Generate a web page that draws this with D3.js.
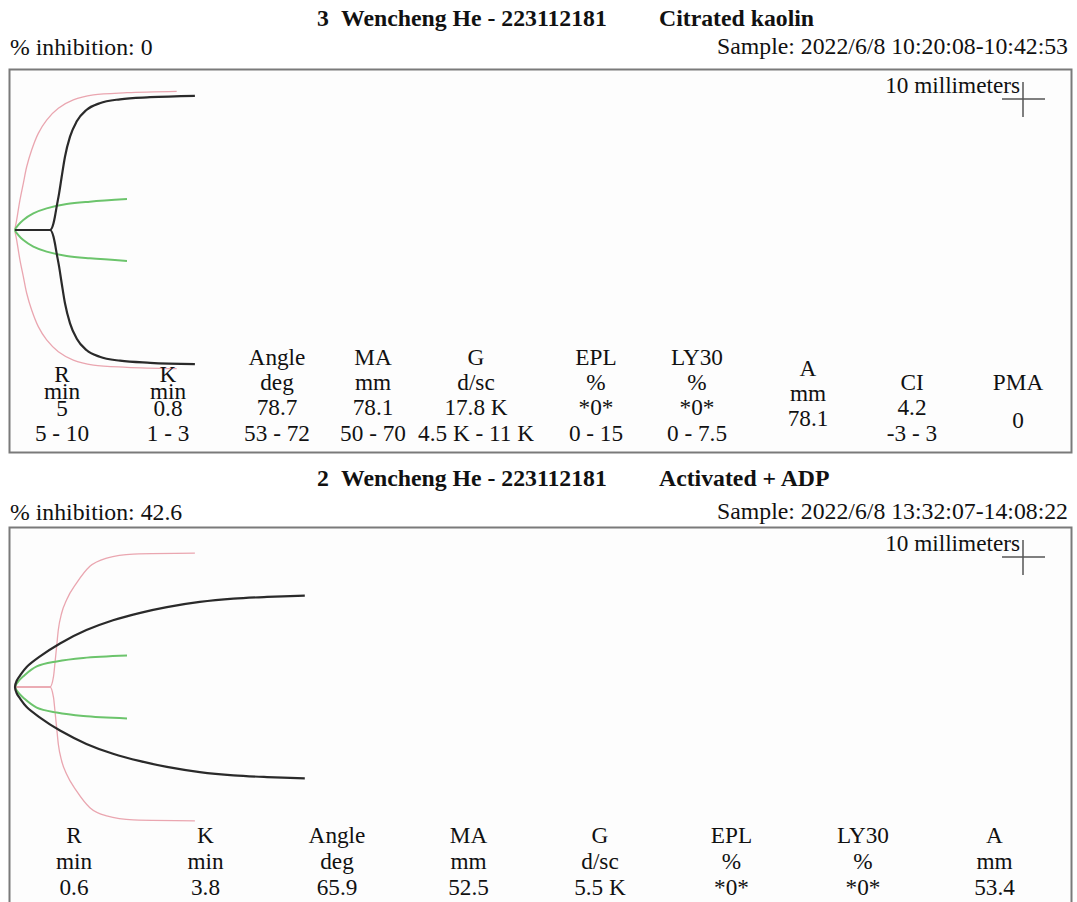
<!DOCTYPE html>
<html>
<head>
<meta charset="utf-8">
<script src="https://cdn.jsdelivr.net/npm/d3@7/dist/d3.min.js"></script>
<style>
    body { margin: 0; background: #fff; }
</style>
</head>
<body>
<script>
// ---- header texts ----
var p1Title = ["3", "Wencheng He - 223112181", "Citrated kaolin"],
    p1Inhibition = "% inhibition: 0",
    p1Sample = "Sample: 2022/6/8 10:20:08-10:42:53";

var p2Title = ["2", "Wencheng He - 223112181", "Activated + ADP"],
    p2Inhibition = "% inhibition: 42.6",
    p2Sample = "Sample: 2022/6/8 13:32:07-14:08:22";

var scaleLabel = "10 millimeters";

// ---- parameter tables ----
var p1Labels = ["R", "K", "Angle", "MA", "G", "EPL", "LY30", "A", "CI", "PMA"],
    p1Units  = ["min", "min", "deg", "mm", "d/sc", "%", "%", "mm", "", ""],
    p1Values = ["5", "0.8", "78.7", "78.1", "17.8 K", "*0*", "*0*", "78.1", "4.2", "0"],
    p1Ranges = ["5 - 10", "1 - 3", "53 - 72", "50 - 70", "4.5 K - 11 K", "0 - 15", "0 - 7.5", "", "-3 - 3", ""];

var p2Labels = ["R", "K", "Angle", "MA", "G", "EPL", "LY30", "A"],
    p2Units  = ["min", "min", "deg", "mm", "d/sc", "%", "%", "mm"],
    p2Values = ["0.6", "3.8", "65.9", "52.5", "5.5 K", "*0*", "*0*", "53.4"];

// ---- tracings: [minutes, half amplitude mm] ----
var p1Black = [[0, 0], [5, 0], [5.5, 3.9], [5.7, 7.7], [5.95, 13.5], [6.3, 21.2], [6.67, 30.8], [7.14, 42.4],
               [7.86, 54], [8.8, 62.7], [10.2, 69.4], [12.1, 73.3], [15, 75.6], [19.3, 76.8], [25.7, 77.6]];
var p1Pink  = [[0, 0], [0.24, 5.8], [0.71, 17.4], [1.19, 27], [1.67, 36.6], [2.38, 46.3], [3.33, 55.9],
               [4.52, 63.6], [6.19, 70.4], [8.33, 75.2], [11.2, 78.1], [16, 79.4], [23.1, 80.2]];
var p1Green = [[0, 0], [0.48, 2.9], [1.19, 5.8], [2.62, 9.6], [4.52, 12.5], [7.38, 15], [10.7, 16.4], [16, 17.9]];

var p2Black = [[0, 0], [0.24, 3.6], [0.71, 6.6], [1.67, 11.6], [3.57, 17.7], [6.43, 25.2],
               [10.2, 32.9], [14, 38.6], [17.9, 42.9], [21.7, 46.2], [26.4, 49.2], [31.2, 51.1], [36, 52.1], [41.4, 52.8]];
var p2Pink  = [[0, 0], [5, 0], [5.5, 6], [5.71, 13.9], [5.95, 23.5], [6.19, 33.1], [6.67, 42.8], [7.38, 50.5],
               [8.81, 60.2], [10.7, 69.8], [13.1, 74.6], [16.9, 76.9], [25.7, 77.4]];
var p2Green = [[0, 0], [0.48, 3.3], [1.19, 6.2], [3.1, 11.9], [5.95, 14.8], [9.76, 16.8], [16, 18.2]];

var width = 1077,
    height = 902,
    serif = "'Liberation Serif', 'DejaVu Serif', 'Times New Roman', serif",
    colors = {black: "#2a2a2a", pink: "#eaa6b0", green: "#6cc46c"};

var svg = d3.select("body").append("svg")
            .attr("width", width)
            .attr("height", height)
            .attr("font-family", serif);

// the sample line is 351px wide in the scan; size all text from it
var probe = svg.append("text")
               .style("font-family", serif)
               .style("font-size", "23.5px")
               .text(p1Sample);
var fontScale = 351 / probe.node().getComputedTextLength();
probe.remove();

var x = d3.scaleLinear().domain([0, 150]).range([15, 1065]);

function addText(parent, str, tx, ty, size, anchor) {
    return parent.append("text")
                 .attr("x", tx)
                 .attr("y", ty)
                 .attr("text-anchor", anchor || "start")
                 .style("font-family", serif)
                 .style("font-size", (size * fontScale) + "px")
                 .style("fill", "#111")
                 .text(str);
}

function drawHeader(title, inhibition, sample, top, subTop) {
    var g = svg.append("g").attr("transform", "translate(0," + top + ")");
    var titleX = [317, 341, 659];
    title.forEach(function(d, i) {
        addText(g, d, titleX[i], 0, 23.5).style("font-weight", "bold");
    });
    addText(g, inhibition, 10, subTop, 23.5);
    addText(g, sample, 1068, subTop - 1, 23.5, "end");
}

function drawBox(top, h) {
    svg.append("rect")
       .attr("x", 9.5)
       .attr("y", top + 0.5)
       .attr("width", 1062)
       .attr("height", h)
       .style("fill", "#fdfdfd")
       .style("stroke", "#7a7a7a")
       .style("stroke-width", 2);

    // scale marker
    addText(svg, scaleLabel, 1020, top + 24, 23, "end");

    var cx = 1023, cy = top + 30;
    svg.append("line")
       .attr("x1", cx - 21).attr("x2", cx + 22)
       .attr("y1", cy).attr("y2", cy)
       .style("stroke", "#555").style("stroke-width", 1.5);
    svg.append("line")
       .attr("x1", cx).attr("x2", cx)
       .attr("y1", cy - 17).attr("y2", cy + 18)
       .style("stroke", "#555").style("stroke-width", 1.5);
}

function drawTrace(data, cy, color, w) {
    var y = d3.scaleLinear().domain([-100, 100]).range([cy + 172.9, cy - 172.9]);

    // no flat stem: one smooth path from the lower tip round the start to the upper tip
    if (data[1][1] > 0) {
        var both = data.slice(1).reverse().map(function(d) {return [d[0], -d[1]]; }).concat(data);
        svg.append("path")
           .datum(both)
           .attr("d", d3.line()
                        .x(function(d) {return x(d[0]); })
                        .y(function(d) {return y(d[1]); })
                        .curve(d3.curveCatmullRom.alpha(0.5)))
           .style("fill", "none")
           .style("stroke", color)
           .style("stroke-width", w);
        return;
    }

    [1, -1].forEach(function(sign) {
        var line = d3.line()
                     .x(function(d) {return x(d[0]); })
                     .y(function(d) {return y(sign * d[1]); })
                     .curve(d3.curveMonotoneX);
        svg.append("path")
           .datum(data)
           .attr("d", line)
           .style("fill", "none")
           .style("stroke", color)
           .style("stroke-width", w)
           .style("stroke-linejoin", "round");
    });
}

function drawTable(columns, colX, rowY) {
    var cols = svg.selectAll(null)
                  .data(columns)
                  .enter()
                  .append("g")
                  .attr("transform", function(d, i) {return "translate(" + colX[i] + ",0)"; });

    cols.each(function(d, i) {
        var g = d3.select(this);
        d.filter(function(s) {return s !== ""; })
         .forEach(function(s, j) {
             addText(g, s, 0, rowY[i][j], 23, "middle");
         });
    });
}

// ---- panel 1 ----
drawHeader(p1Title, p1Inhibition, p1Sample, 26, 29);
drawBox(69, 383);
drawTrace(p1Pink, 230, colors.pink, 1.3);
drawTrace(p1Green, 230, colors.green, 2);
drawTrace(p1Black, 230, colors.black, 2.2);

var squash = [382, 399, 416, 441],
    full = [365, 390, 415, 441];
var p1RowY = [squash, squash, full, full, full, full, full, [376, 401, 426], [390, 415, 441], [390, 428]];
var p1ColX = [62, 168, 277, 373, 476, 596, 697, 808, 912, 1018];

drawTable(p1Labels.map(function(d, i) {return [d, p1Units[i], p1Values[i], p1Ranges[i]]; }),
          p1ColX, p1RowY);

// ---- panel 2 ----
drawHeader(p2Title, p2Inhibition, p2Sample, 486, 34);
drawBox(527, 420);
drawTrace(p2Pink, 687, colors.pink, 1.3);
drawTrace(p2Green, 687, colors.green, 2);
drawTrace(p2Black, 687, colors.black, 2.2);

var p2ColX = p2Labels.map(function(d, i) {return 74 + i * 131.5; });
drawTable(p2Labels.map(function(d, i) {return [d, p2Units[i], p2Values[i]]; }),
          p2ColX, p2Labels.map(function() {return [843, 869, 895]; }));
</script>
</body>
</html>
